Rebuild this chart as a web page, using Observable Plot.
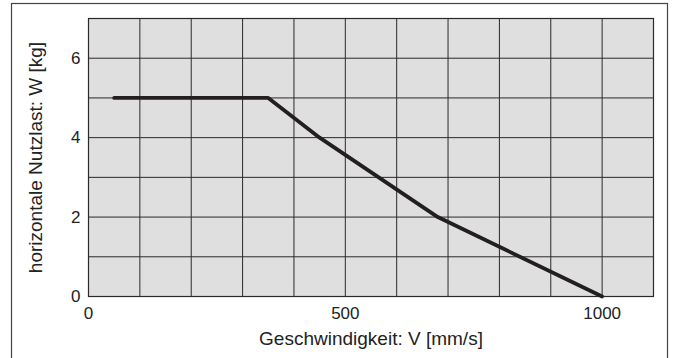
<!DOCTYPE html>
<html>
<head>
<meta charset="utf-8">
<script src="https://cdn.jsdelivr.net/npm/d3@7"></script>
<script src="https://cdn.jsdelivr.net/npm/@observablehq/plot@0.6"></script>
<style>
  html, body { margin: 0; padding: 0; background: #fff; }
  #chart { position: relative; width: 674px; height: 358px; }
</style>
</head>
<body>
<div id="chart"></div>
<script>
const speed = [50, 350, 450, 680, 1000];
const load = [5, 5, 4, 2, 0];
const xTicks = [0, 500, 1000];
const yTicks = [0, 2, 4, 6];
const xGrid = [100, 200, 300, 400, 500, 600, 700, 800, 900, 1000];
const yGrid = [1, 2, 3, 4, 5, 6];
const xLabel = "Geschwindigkeit: V [mm/s]";
const yLabel = "horizontale Nutzlast: W [kg]";

const data = speed.map((v, i) => ({v, w: load[i]}));
const font = "Liberation Sans, Arial, Helvetica, sans-serif";

const chart = Plot.plot({
  width: 674,
  height: 358,
  marginLeft: 88,
  marginRight: 21,
  marginTop: 18,
  marginBottom: 62,
  style: {fontFamily: font, fontSize: "17px", color: "#222", background: "#fff"},
  x: {domain: [0, 1100]},
  y: {domain: [0, 7]},
  marks: [
    Plot.frame({fill: "#dfdfe0"}),
    Plot.ruleX(xGrid, {stroke: "#2a2a2a", strokeWidth: 1}),
    Plot.ruleY(yGrid, {stroke: "#2a2a2a", strokeWidth: 1}),
    Plot.frame({stroke: "#2a2a2a", strokeWidth: 1.2}),
    Plot.axisX(xTicks, {tickSize: 0, tickPadding: 10, label: null, fontSize: 17, fill: "#222", tickFormat: d3.format("d")}),
    Plot.axisY(yTicks, {tickSize: 0, tickPadding: 8, label: null, fontSize: 17, fill: "#222", tickFormat: d3.format("d")}),
    Plot.text([xLabel], {frameAnchor: "bottom", dy: 48, text: d => d, fontSize: 19, fill: "#222", textAnchor: "middle"}),
    Plot.text([yLabel], {frameAnchor: "left", dx: -53, rotate: -90, text: d => d, fontSize: 19, fill: "#222", textAnchor: "middle"}),
    Plot.line(data, {x: "v", y: "w", stroke: "#231f20", strokeWidth: 3.8, strokeLinejoin: "miter"})
  ]
});

d3.select(chart).append("rect")
  .attr("x", 11.5).attr("y", 3.5)
  .attr("width", 656).attr("height", 360)
  .attr("fill", "none").attr("stroke", "#444").attr("stroke-width", 1.2);

document.getElementById("chart").appendChild(chart);
</script>
</body>
</html>
